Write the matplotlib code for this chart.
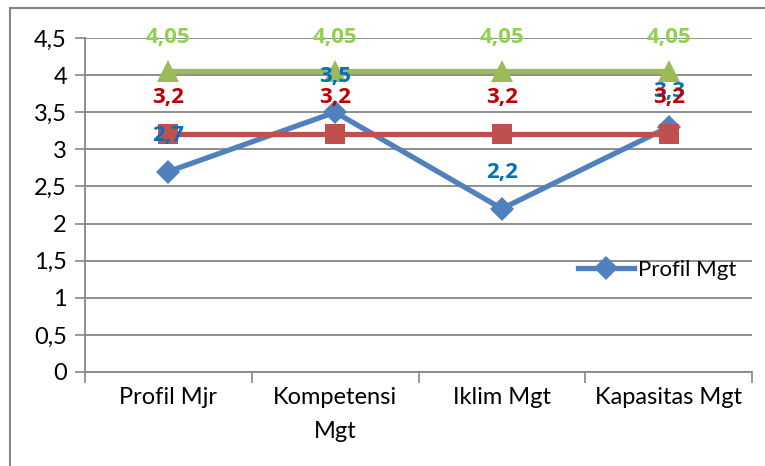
import matplotlib.pyplot as plt
from matplotlib.lines import Line2D
from matplotlib.patches import Rectangle

plt.rcParams['font.family'] = ['Lato', 'DejaVu Sans']

# data
categories = ['Profil Mjr', 'Kompetensi\nMgt', 'Iklim Mgt', 'Kapasitas Mgt']
profil_mgt = [2.7, 3.5, 2.2, 3.3]
red_series = [3.2, 3.2, 3.2, 3.2]
green_series = [4.05, 4.05, 4.05, 4.05]
y_ticks = [0, 0.5, 1, 1.5, 2, 2.5, 3, 3.5, 4, 4.5]


def fmt(v):
    return ('%g' % v).replace('.', ',')


fig = plt.figure(figsize=(7.65, 4.66), dpi=100)
ax = fig.add_axes([85 / 765, 1 - 372 / 466, 667 / 765, 334 / 466])

x = list(range(len(categories)))

ax.plot(x, profil_mgt, color='#4F81BD', lw=3.8, marker='D', ms=12,
        markeredgewidth=0, zorder=3, label='Profil Mgt')
ax.plot(x, red_series, color='#C0504D', lw=3.8, marker='s', ms=14,
        markeredgewidth=0, zorder=4)
ax.plot(x, green_series, color='#9BBB59', lw=3.8, marker='^', ms=16,
        markeredgewidth=0, zorder=5)

# data labels
lab = dict(ha='center', va='center', fontsize=16, fontweight='bold',
           family=['Open Sans', 'DejaVu Sans'], textcoords='offset pixels')
for xi, v in zip(x, profil_mgt):
    ax.annotate(fmt(v), (xi, v), xytext=(0, 36), color='#0070C0', zorder=6, **lab)
for xi, v in zip(x, red_series):
    ax.annotate(fmt(v), (xi, v), xytext=(0, 37), color='#C00000', zorder=7, **lab)
for xi, v in zip(x, green_series):
    ax.annotate(fmt(v), (xi, v), xytext=(0, 34), color='#92D050', zorder=8, **lab)

ax.set_xlim(-0.5, len(categories) - 0.5)
ax.set_ylim(0, 4.5)
ax.set_yticks(y_ticks)
ax.set_yticklabels([fmt(t) for t in y_ticks], fontsize=17)
ax.yaxis.grid(True, color='#868686', lw=1.3)
ax.set_axisbelow(True)

ax.set_xticks([i - 0.5 for i in range(len(categories) + 1)])
ax.set_xticklabels([])
ax.set_xticks(x, minor=True)
ax.set_xticklabels(categories, minor=True, fontsize=17, linespacing=1.75)
ax.tick_params(axis='x', which='major', length=8, width=1.2, color='#868686',
               direction='out')
ax.tick_params(axis='x', which='minor', length=0, pad=11)
ax.tick_params(axis='y', length=7, width=1.2, color='#868686', pad=6)

for s in ['top', 'right']:
    ax.spines[s].set_visible(False)
for s in ['left', 'bottom']:
    ax.spines[s].set_color('#868686')
    ax.spines[s].set_linewidth(1.3)

handle = Line2D([], [], color='#4F81BD', lw=3.8, marker='D', ms=12,
                markeredgewidth=0)
fig.legend([handle], ['Profil Mgt'], loc='center left',
           bbox_to_anchor=(567 / 765, 1 - 270 / 466), frameon=False,
           fontsize=16, handlelength=2.5, handletextpad=0.2, borderpad=0)

# outer chart border
fig.patches.append(Rectangle((10 / 765, -0.1), 1.0, 1.1 - 8 / 466,
                             transform=fig.transFigure, fill=False,
                             edgecolor='#868686', lw=1.5))

fig.savefig('out.png', dpi=100)
